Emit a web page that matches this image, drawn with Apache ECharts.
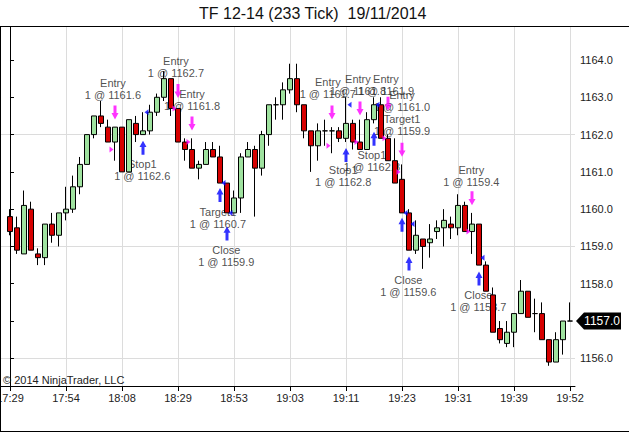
<!DOCTYPE html>
<html>
<head>
<meta charset="utf-8">
<script src="https://cdn.jsdelivr.net/npm/echarts@6/dist/echarts.min.js"></script>
<style>
html,body{margin:0;padding:0;background:#fff;}
#Charts1{width:629px;height:432px;}
</style>
</head>
<body>
<div id="Charts1"></div>
<script>
// TF 12-14, 233 tick bars
var timeLabels = ['17:29','17:54','18:08','18:29','18:53','19:03','19:11','19:23','19:31','19:39','19:52'];
var opens  = [1159.8,1159.5,1158.8,1160.0,1158.8,1158.7,1159.6,1159.3,1159.9,1160.0,
              1160.6,1161.2,1162.0,1162.5,1162.2,1161.8,1162.2,1161.0,1162.3,1162.0,
              1162.1,1162.6,1163.0,1163.5,1162.7,1161.8,1161.6,1161.1,1161.2,1161.6,
              1161.4,1160.7,1159.9,1160.3,1161.4,1161.6,1161.1,1162.0,1162.8,1162.8,
              1163.2,1163.5,1162.8,1162.1,1161.7,1162.1,1162.1,1162.1,1161.9,1162.3,
              1161.8,1161.6,1162.4,1162.8,1161.9,1161.3,1160.8,1159.9,1158.9,1159.2,
              1159.1,1159.4,1159.5,1159.6,1159.5,1160.1,1159.4,1159.6,1158.5,1157.7,
              1156.8,1156.4,1156.7,1157.2,1157.8,1157.2,1157.2,1156.5,1155.9,1156.5,1157.0];
var closes = [1159.4,1158.9,1160.1,1158.9,1158.7,1159.6,1159.3,1159.9,1160.0,1160.6,
              1161.2,1162.0,1162.5,1162.3,1161.8,1162.2,1161.0,1162.4,1162.0,1162.1,
              1162.6,1163.0,1163.5,1162.7,1161.8,1161.6,1161.1,1161.2,1161.6,1161.4,
              1160.7,1159.9,1160.3,1161.4,1161.6,1161.1,1162.0,1162.8,1162.8,1163.2,
              1163.5,1162.8,1162.1,1161.7,1162.1,1162.1,1162.1,1161.9,1162.3,1161.8,
              1161.6,1162.4,1162.8,1161.9,1161.3,1160.7,1159.9,1158.9,1159.3,1159.0,
              1159.2,1159.5,1159.7,1159.5,1160.1,1159.4,1159.6,1158.5,1157.8,1156.7,
              1156.5,1156.7,1157.2,1157.8,1157.1,1157.2,1156.5,1155.9,1156.5,1157.0,1157.0];
var highs  = [1160.0,1159.8,1160.5,1160.2,1158.95,1159.6,1159.9,1159.9,1160.6,1160.9,
              1161.4,1162.0,1162.5,1162.9,1162.4,1162.2,1162.2,1162.4,1162.5,1162.6,
              1162.8,1163.1,1163.7,1163.5,1162.7,1161.9,1161.9,1161.3,1161.8,1161.8,
              1161.7,1160.7,1160.5,1161.5,1161.8,1161.7,1162.1,1162.8,1163.0,1163.4,
              1163.9,1163.9,1162.8,1162.1,1162.3,1162.4,1162.2,1162.2,1163.0,1162.4,
              1162.4,1162.6,1163.0,1163.0,1162.0,1161.9,1161.2,1160.0,1159.7,1159.2,
              1159.6,1159.7,1160.0,1159.8,1160.4,1160.2,1159.9,1159.6,1158.6,1157.9,
              1157.0,1157.0,1157.2,1158.1,1157.8,1157.6,1157.5,1156.5,1156.7,1157.0,1157.5];
var lows   = [1159.3,1158.8,1158.8,1158.9,1158.5,1158.5,1159.1,1159.0,1159.7,1159.9,
              1160.4,1161.2,1161.9,1162.2,1161.8,1161.3,1161.0,1161.0,1161.8,1162.0,
              1162.0,1162.5,1162.9,1162.5,1161.8,1161.3,1161.1,1160.8,1161.2,1161.4,
              1160.7,1159.9,1159.9,1159.9,1161.4,1159.8,1160.9,1161.7,1162.4,1162.4,
              1163.1,1162.6,1161.9,1161.0,1161.3,1161.7,1161.5,1161.8,1161.8,1161.6,
              1161.6,1161.6,1162.3,1161.9,1161.3,1160.7,1159.9,1158.9,1158.8,1158.4,
              1158.7,1159.2,1159.0,1159.2,1159.3,1159.4,1158.8,1158.5,1157.8,1156.7,
              1156.4,1156.3,1156.3,1157.2,1157.1,1156.7,1156.5,1155.8,1155.9,1156.1,1157.0];
var priceLabels = [1156,1157,1158,1159,1160,1161,1162,1163,1164];
var gridPrices = [1156,1159,1162];

// executions: sells (magenta) and buys (blue)
var sellBars   = [15,24,26,46,50,54,56,66];
var sellPrices = [1161.6,1162.7,1161.8,1161.7,1161.8,1161.9,1161.0,1159.4];
var sellArrowY = [1162.59,1163.17,1162.30,1162.59,1162.70,1162.83,1161.59,1160.29];
var buyBars    = [19,30,31,48,52,56,57,67];
var buyPrices  = [1162.6,1160.7,1159.9,1162.8,1162.8,1159.9,1159.6,1158.7];
var buyArrowY  = [1161.65,1160.38,1159.35,1161.45,1161.89,1159.58,1158.54,1158.14];

var noteTexts = ['Entry\n1 @ 1161.6','Entry\n1 @ 1162.7','Entry\n1 @ 1161.8','Stop1\n1 @ 1162.6',
                 'Target1\n1 @ 1160.7','Close\n1 @ 1159.9','Entry\n1 @ 1161.7','Entry\n1 @ 1161.8',
                 'Entry\n1 @ 1161.9','Entry\n1 @ 1161.0\nTarget1\n1 @ 1159.9','Stop1\n1 @ 1162.8',
                 'Stop1\n1 @ 1162.8','Close\n1 @ 1159.6','Entry\n1 @ 1159.4','Close\n1 @ 1158.7'];
var noteX = [14.7,23.7,26,18.9,29.7,30.9,45.4,49.7,53.7,56,47.6,51.7,56.9,65.9,66.9];
var noteY = [1163.22,1163.80,1162.93,1161.04,1159.76,1158.74,1163.24,1163.33,1163.33,1162.58,
             1160.88,1161.29,1157.94,1160.90,1157.54];

var FONT = '"Liberation Sans", Arial, sans-serif';
var tickBars = [];
for (var t = 0; t < timeLabels.length; t++) tickBars.push(t * 8);
var lastClose = closes[closes.length - 1];

var candleData = [];
for (var i = 0; i < opens.length; i++) {
	candleData.push([i, opens[i], closes[i], lows[i], highs[i]]);
}
function pairs(xs, ys) {
	var out = [];
	for (var k = 0; k < xs.length; k++) out.push([xs[k], ys[k]]);
	return out;
}
var gridLines = [];
for (var g = 0; g < gridPrices.length; g++) gridLines.push({yAxis: gridPrices[g]});
for (var g = 0; g < tickBars.length; g++) gridLines.push({xAxis: tickBars[g]});

var myChart = echarts.init(document.getElementById('Charts1'), null, {renderer: 'svg'});
var option = {
	animation: false,
	backgroundColor: '#fff',
	title: {
		text: 'TF 12-14 (233 Tick)  19/11/2014',
		left: 194, top: 0,
		textStyle: {fontFamily: FONT, fontSize: 16, fontWeight: 'normal', color: '#111'}
	},
	grid: {left: 1, right: 54, top: 27, bottom: 46, outerBoundsMode: 'none', containLabel: false},
	xAxis: {
		type: 'value', min: -1.2857, max: 80.714,
		axisLine: {show: true, onZero: false, lineStyle: {color: '#000', width: 1}},
		axisTick: {show: true, length: 5, customValues: tickBars, lineStyle: {color: '#000'}},
		axisLabel: {
			customValues: tickBars, margin: 6, color: '#222', fontFamily: FONT, fontSize: 11,
			alignMinLabel: 'center', alignMaxLabel: 'center',
			formatter: function (v) { return timeLabels[Math.round(v / 8)]; }
		},
		splitLine: {show: false}
	},
	yAxis: {
		type: 'value', position: 'right', min: 1155.258, max: 1164.885, scale: true,
		axisLine: {show: true, lineStyle: {color: '#000', width: 1}},
		axisTick: {show: true, length: 4, customValues: priceLabels, lineStyle: {color: '#000'}},
		axisLabel: {
			customValues: priceLabels, margin: 5, color: '#222', fontFamily: FONT, fontSize: 11,
			// the last price box covers its own tick label
			formatter: function (v) { return v === lastClose ? '' : v.toFixed(1); }
		},
		splitLine: {show: false}
	},
	series: [
		{
			name: 'notes', type: 'scatter', z: 1, silent: true,
			symbol: 'circle', symbolSize: 1, itemStyle: {color: 'rgba(0,0,0,0)'},
			data: pairs(noteX, noteY),
			label: {
				show: true, position: 'inside', align: 'center', verticalAlign: 'middle',
				fontFamily: FONT, fontSize: 11, lineHeight: 12, color: '#222',
				formatter: function (p) { return noteTexts[p.dataIndex]; }
			}
		},
		{
			name: 'TF', type: 'candlestick', z: 2, silent: true,
			data: candleData, encode: {x: 0, y: [1, 2, 3, 4]},
			barWidth: 5,
			itemStyle: {
				color: '#9fe29f', color0: '#d60000',
				borderColor: '#000', borderColor0: '#000', borderColorDoji: '#000', borderWidth: 1
			},
			markLine: {
				silent: true, symbol: 'none', z: 0, animation: false,
				label: {show: false},
				lineStyle: {color: '#dcdcdc', type: 'solid', width: 1},
				data: gridLines
			}
		},
		{
			name: 'sellArrow', type: 'scatter', z: 3, silent: true,
			symbol: 'path://M2,0 L5,0 L5,7 L7,7 L3.5,13 L0,7 L2,7 Z', symbolSize: [7, 14],
			itemStyle: {color: '#ff00ff'},
			data: pairs(sellBars, sellArrowY)
		},
		{
			name: 'buyArrow', type: 'scatter', z: 3, silent: true,
			symbol: 'path://M2,13 L5,13 L5,6 L7,6 L3.5,0 L0,6 L2,6 Z', symbolSize: [7, 14],
			itemStyle: {color: '#0000ff'},
			data: pairs(buyBars, buyArrowY)
		},
		{
			name: 'sellFill', type: 'scatter', z: 3, silent: true,
			symbol: 'path://M0,0 L4,3 L0,6 Z', symbolSize: [4, 6], symbolOffset: [-3.5, 0],
			itemStyle: {color: '#ff00ff'},
			data: pairs(sellBars, sellPrices)
		},
		{
			name: 'buyFill', type: 'scatter', z: 3, silent: true,
			symbol: 'path://M4,0 L0,3 L4,6 Z', symbolSize: [4, 6], symbolOffset: [3.5, 0],
			itemStyle: {color: '#0000ff'},
			data: pairs(buyBars, buyPrices)
		}
	]
};
myChart.setOption(option);

// frame, copyright and last price marker
var py = Math.round(myChart.convertToPixel({yAxisIndex: 0}, lastClose));
var px = Math.round(myChart.convertToPixel({xAxisIndex: 0}, 80.714));
myChart.setOption({
	graphic: [
		{type: 'line', shape: {x1: 0, y1: 26.5, x2: 629, y2: 26.5}, style: {stroke: '#000', lineWidth: 1}, z: 10},
		{type: 'line', shape: {x1: 0.5, y1: 26.5, x2: 0.5, y2: 432}, style: {stroke: '#000', lineWidth: 1}, z: 10},
		{type: 'line', shape: {x1: 0, y1: 431.5, x2: 629, y2: 431.5}, style: {stroke: '#000', lineWidth: 1}, z: 10},
		{type: 'text', x: 3, y: 380, style: {text: '\u00a9 2014 NinjaTrader, LLC', fill: '#222',
			font: '11px ' + FONT, verticalAlign: 'middle'}, z: 10},
		{type: 'polygon', shape: {points: [[px + 1, py], [px + 9, py - 8.5], [px + 46, py - 8.5], [px + 46, py + 8.5], [px + 9, py + 8.5]]},
			style: {fill: '#000'}, z: 20},
		{type: 'text', x: px + 27, y: py, style: {text: lastClose.toFixed(1), fill: '#fff',
			font: '12px ' + FONT, align: 'center', verticalAlign: 'middle'}, z: 21}
	]
});
</script>
</body>
</html>
